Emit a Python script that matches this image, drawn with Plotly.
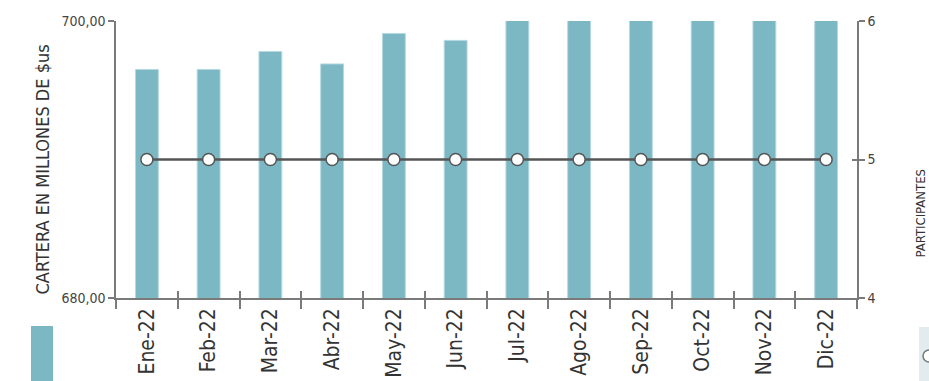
import plotly.graph_objects as go

meses = ["Ene-22", "Feb-22", "Mar-22", "Abr-22", "May-22", "Jun-22",
         "Jul-22", "Ago-22", "Sep-22", "Oct-22", "Nov-22", "Dic-22"]
cartera = [696.5, 696.5, 697.8, 696.9, 699.1, 698.6,
           700.8, 701.2, 701.5, 701.9, 702.3, 702.6]
participantes = [5, 5, 5, 5, 5, 5, 5, 5, 5, 5, 5, 5]
y_ticks = [680, 700]
y_ticktext = ["680,00", "700,00"]
y2_ticks = [4, 5, 6]

FONT = "DejaVu Sans Condensed, Liberation Sans Narrow, sans-serif"
AX = "#7a7a7a"
TEAL = "#7cb7c4"

fig = go.Figure()
fig.add_trace(go.Bar(x=meses, y=cartera, marker=dict(color=TEAL, line=dict(color="#b6d8e0", width=1)),
                     name="Cartera", xaxis="x", yaxis="y", hoverinfo="x+y"))
fig.add_trace(go.Scatter(x=meses, y=participantes, mode="lines+markers", name="Participantes",
                         line=dict(color="#555555", width=2.5),
                         marker=dict(size=12, color="white", line=dict(color="#555555", width=1.5)),
                         xaxis="x", yaxis="y2"))
# invisible helpers so overlay axes (inside tick marks) get drawn
fig.add_trace(go.Scatter(x=meses, y=cartera, mode="markers", marker=dict(opacity=0),
                         hoverinfo="skip", showlegend=False, xaxis="x2", yaxis="y3"))
fig.add_trace(go.Scatter(x=meses, y=participantes, mode="markers", marker=dict(opacity=0),
                         hoverinfo="skip", showlegend=False, xaxis="x", yaxis="y4"))

fig.update_layout(
    width=929, height=381,
    margin=dict(l=116, r=72, t=21, b=83, autoexpand=False),
    paper_bgcolor="white", plot_bgcolor="white",
    showlegend=False, bargap=0.63,
    font=dict(family=FONT, color="#333333"),
    xaxis=dict(type="category", categoryarray=meses, range=[-0.5, 11.5],
               showgrid=False, zeroline=False, showline=True, linecolor=AX, linewidth=1.5,
               ticks="outside", ticklen=9, tickcolor=AX, tickwidth=1.5, tickson="boundaries",
               tickangle=-90, tickfont=dict(size=21, color="#333333"), automargin=False),
    xaxis2=dict(type="category", categoryarray=meses, range=[-0.5, 11.5], overlaying="x",
                anchor="y", side="bottom", showgrid=False, zeroline=False, showline=False,
                ticks="inside", ticklen=7, tickcolor=AX, tickwidth=1.5, tickson="boundaries",
                showticklabels=False),
    yaxis=dict(range=[680, 700], tickvals=y_ticks, ticktext=y_ticktext, showgrid=False,
               zeroline=False, showline=True, linecolor=AX, linewidth=1.5,
               ticks="outside", ticklen=6, tickcolor=AX, tickwidth=1.5,
               tickfont=dict(size=14, color="#444444"), automargin=False),
    yaxis3=dict(range=[680, 700], tickvals=y_ticks, overlaying="y", side="left",
                showgrid=False, zeroline=False, showline=False,
                ticks="inside", ticklen=6, tickcolor=AX, tickwidth=1.5, showticklabels=False),
    yaxis2=dict(range=[4, 6], tickvals=y2_ticks, overlaying="y", side="right", anchor="x",
                showgrid=False, zeroline=False, showline=True, linecolor=AX, linewidth=1.5,
                ticks="outside", ticklen=6, tickcolor=AX, tickwidth=1.5,
                tickfont=dict(size=14, color="#444444"), automargin=False),
    yaxis4=dict(range=[4, 6], tickvals=y2_ticks, overlaying="y", side="right",
                showgrid=False, zeroline=False, showline=False,
                ticks="inside", ticklen=5, tickcolor=AX, tickwidth=1.5, showticklabels=False),
)

fig.add_annotation(text="CARTERA EN MILLONES DE $us", textangle=-90, showarrow=False,
                   xref="paper", yref="paper", x=0, y=0.5, xanchor="center", yanchor="middle",
                   xshift=-74, yshift=-10, font=dict(size=18, color="#333333", family=FONT))
fig.add_annotation(text="PARTICIPANTES", textangle=-90, showarrow=False,
                   xref="paper", yref="paper", x=1, y=0.5, xanchor="center", yanchor="middle",
                   xshift=63, yshift=-54, font=dict(size=13, color="#333333", family=FONT))

# legend-like decorations (cropped at bottom of the view)
fig.add_shape(type="rect", xref="paper", yref="paper", xsizemode="pixel", ysizemode="pixel",
              xanchor=0, yanchor=0, x0=-85, x1=-63, y0=-28, y1=-100,
              fillcolor=TEAL, line=dict(width=0))
fig.add_shape(type="rect", xref="paper", yref="paper", xsizemode="pixel", ysizemode="pixel",
              xanchor=1, yanchor=0, x0=62, x1=100, y0=-29, y1=-100,
              fillcolor="#e2ecee", line=dict(width=0))
fig.add_shape(type="circle", xref="paper", yref="paper", xsizemode="pixel", ysizemode="pixel",
              xanchor=1, yanchor=0, x0=66, x1=78, y0=-52, y1=-64,
              fillcolor="white", line=dict(color="#777777", width=1.5))

fig.write_html(
    "out.html",
    config={"displayModeBar": False},
    post_script="document.body.style.margin='0';document.body.style.overflow='hidden';"
                "document.documentElement.style.overflow='hidden';",
)
